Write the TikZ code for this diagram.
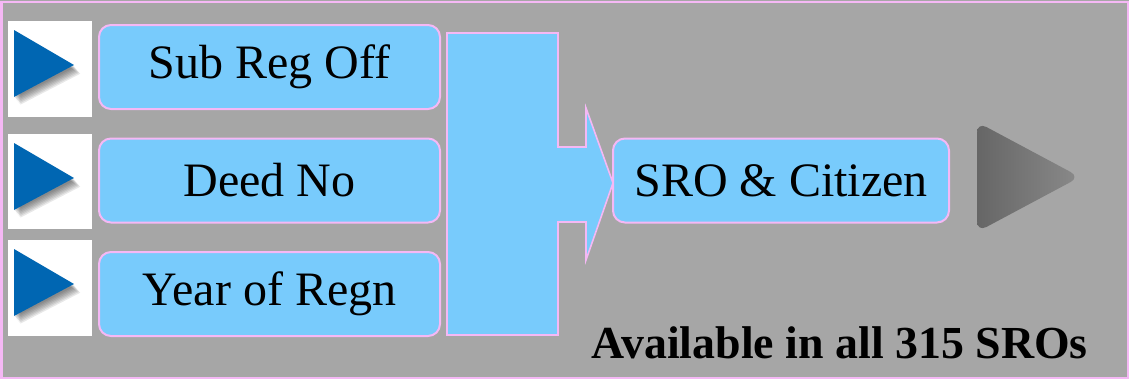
\documentclass[tikz,border=0pt]{standalone}
\usepackage{fontspec}
\setmainfont{Liberation Serif}
\definecolor{bgc}{RGB}{166,166,166}
\definecolor{pinkc}{RGB}{245,184,245}
\definecolor{boxc}{RGB}{120,203,252}
\definecolor{tric}{RGB}{0,102,178}
\tikzset{
  rbox/.style={draw=pinkc, line width=1.5pt, fill=boxc, rounded corners=9pt, minimum width=255.75pt, minimum height=63pt, inner sep=0pt, font=\fontsize{36}{42}\selectfont},
}
\begin{document}
\begin{tikzpicture}[x=0.75pt,y=-0.75pt]
\useasboundingbox (0,0) rectangle (1129,379);
\fill[bgc] (0,0) rectangle (1129,379);
\draw[pinkc, line width=1.5pt] (1.5,1.5) rectangle (1127.5,377.5);
% icons
\foreach \yy/\hh in {21/96,134/95,240/96}{
  \fill[white] (8,\yy) rectangle (92,\yy+\hh);
  \foreach \k in {1,...,7}{
    \fill[black!85, opacity=0.1] (14+\k*0.9,\yy+9+\k*1.1) -- (74+\k*0.9,\yy+45+\k*1.1) -- (14+\k*0.9,\yy+76+\k*1.1) -- cycle;
  }
  \fill[tric] (14,\yy+9) -- (74,\yy+44) -- (14,\yy+76) -- cycle;
}
% boxes
\node[rbox] (b1) at (269.5,67) {Sub Reg Off};
\node[rbox] (b2) at (269.5,180.5) {Deed No};
\node[rbox] (b3) at (269.5,294) {Year of Regn};
% big arrow
\draw[pinkc, line width=1.2pt, fill=boxc] (447,33) -- (558,33) -- (558,147) -- (586,147) -- (586,108) -- (613,183) -- (586,260) -- (586,222) -- (558,222) -- (558,335) -- (447,335) -- cycle;
\node[rbox, minimum width=252pt] (s) at (781,180.5) {SRO \& Citizen};
% gray triangle
\shade[left color=black!60, right color=black!46, rounded corners=8pt] (977,122) -- (1080,177) -- (977,232) -- cycle;
\node[anchor=base east, font=\bfseries\fontsize{34.4}{40}\selectfont, inner sep=0pt] (av) at (1088,358) {Available in all 315 SROs};
\end{tikzpicture}
\end{document}
